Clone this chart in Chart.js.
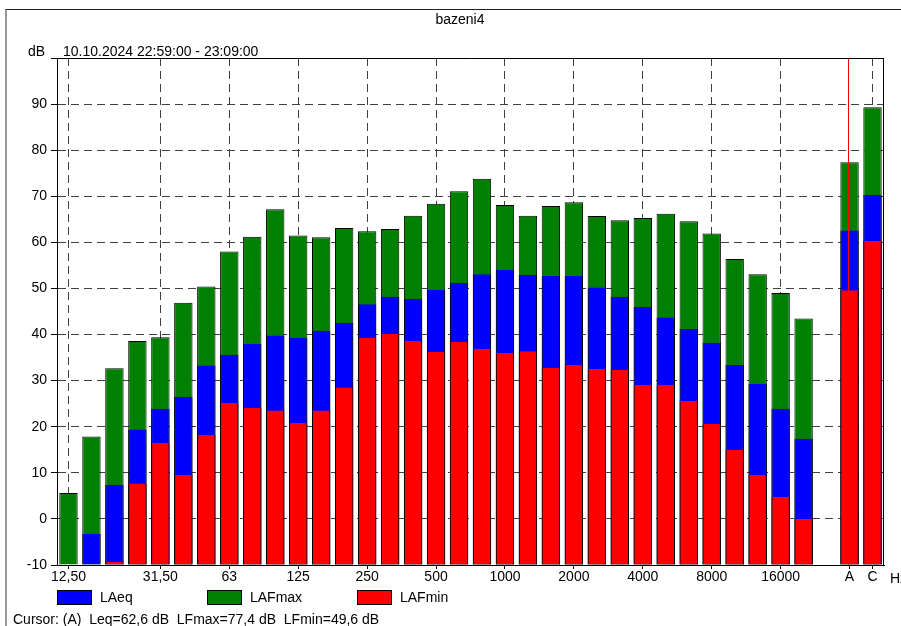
<!DOCTYPE html>
<html>
<head>
<meta charset="utf-8">
<title>bazeni4</title>
<script src="https://cdn.jsdelivr.net/npm/chart.js@4.4.1/dist/chart.umd.min.js"></script>
<style>
    html, body { margin: 0; padding: 0; background: #fff; }
    body { width: 901px; height: 626px; position: relative; overflow: hidden;
           font-family: 'Liberation Sans', Arial, sans-serif; font-size: 14px; color: #000; }
    #frame { position: absolute; left: 5px; top: 9px; width: 920px; height: 640px;
             border-top: 1px solid #222; border-left: 2px solid #999; }
    canvas { position: absolute; left: 0; top: 0; }
    .txt { position: absolute; line-height: 16px; white-space: nowrap; }
    .box { position: absolute; width: 35px; height: 15px; box-sizing: border-box; border: 1px solid #000; }
</style>
</head>
<body>
<div id="frame"></div>
<canvas id="spectrum-chart" width="901" height="626"></canvas>

<div class="txt" style="left:0; width:920px; text-align:center; top:11px;">bazeni4</div>
<div class="txt" style="left:28px; top:43px;">dB</div>
<div class="txt" style="left:63px; top:43px;">10.10.2024 22:59:00 - 23:09:00</div>
<div class="txt" style="left:890px; top:570px;">Hz</div>

<div class="box" style="left:57px; top:590px; background:#0000ff;"></div>
<div class="txt" style="left:100px; top:589px;">LAeq</div>
<div class="box" style="left:207px; top:590px; background:#008000;"></div>
<div class="txt" style="left:250px; top:589px;">LAFmax</div>
<div class="box" style="left:357px; top:590px; background:#ff0000;"></div>
<div class="txt" style="left:400px; top:589px;">LAFmin</div>

<div class="txt" style="left:13px; top:611px;">Cursor: (A)&nbsp; Leq=62,6 dB&nbsp; LFmax=77,4 dB&nbsp; LFmin=49,6 dB</div>

<script>
// Third-octave bands, then an empty slot, then the A and C totals
const bands = ['12,50', '16', '20', '25', '31,50', '40', '50', '63', '80', '100', '125', '160',
    '200', '250', '315', '400', '500', '630', '800', '1000', '1250', '1600', '2000', '2500',
    '3150', '4000', '5000', '6300', '8000', '10000', '12500', '16000', '20000', '', 'A', 'C'];

// Only these band labels get a tick label and a vertical grid line
const shownLabels = ['12,50', '31,50', '63', '125', '250', '500', '1000', '2000', '4000',
    '8000', '16000', 'A', 'C'];

const lafmax = [5.6, 17.9, 32.7, 38.6, 39.4, 46.9, 50.4, 58.0, 61.2, 67.2, 61.5, 61.1,
    63.1, 62.4, 62.9, 65.8, 68.4, 71.1, 73.8, 68.1, 65.8, 67.9, 68.7, 65.7,
    64.8, 65.3, 66.2, 64.6, 61.9, 56.4, 53.1, 49.0, 43.5, null, 77.4, 89.3];

const laeq = [null, -3.2, 7.4, 19.4, 23.9, 26.5, 33.3, 35.6, 38.0, 39.8, 39.3, 40.8,
    42.5, 46.6, 48.2, 47.7, 49.7, 51.2, 53.1, 54.0, 52.9, 52.7, 52.7, 50.2,
    48.2, 46.0, 43.7, 41.2, 38.2, 33.4, 29.3, 23.9, 17.4, null, 62.6, 70.3];

const lafmin = [null, null, -9.3, 7.7, 16.5, 9.5, 18.2, 25.2, 24.1, 23.5, 20.8, 23.5,
    28.5, 39.3, 40.1, 38.6, 36.2, 38.4, 36.9, 36.0, 36.4, 32.8, 33.4, 32.5,
    32.3, 29.1, 29.1, 25.6, 20.6, 15.0, 9.5, 4.8, 0.0, null, 49.6, 60.3];

const yTicks = [-10, 0, 10, 20, 30, 40, 50, 60, 70, 80, 90];
const cursorIndex = 34; // cursor sits on the A total

document.addEventListener('DOMContentLoaded', () => {
    const ctx = document.getElementById('spectrum-chart');
    if (!ctx || !window.Chart) return;

    Chart.defaults.color = '#000';
    Chart.defaults.font.family = "'Liberation Sans', Arial, sans-serif";
    Chart.defaults.font.size = 14;

    const isShown = (i) => shownLabels.indexOf(bands[i]) !== -1;
    const sideBorder = { left: 1, right: 1, top: 0, bottom: 0 };

    // frame on top/right of the plot plus the red cursor line
    const plotFrame = {
        id: 'plotFrame',
        afterDraw(chart) {
            const c2d = chart.ctx;
            const a = chart.chartArea;
            c2d.save();
            c2d.setLineDash([]);
            c2d.strokeStyle = '#000000';
            c2d.lineWidth = 1;
            c2d.beginPath();
            c2d.moveTo(a.left, a.top + 0.5);
            c2d.lineTo(Math.round(a.right) - 0.5, a.top + 0.5);
            c2d.lineTo(Math.round(a.right) - 0.5, a.bottom);
            c2d.stroke();

            const cx = Math.round(chart.scales.x.getPixelForValue(cursorIndex)) - 1.5;
            c2d.strokeStyle = 'rgb(255, 0, 0)';
            c2d.lineWidth = 1;
            c2d.beginPath();
            c2d.moveTo(cx, a.top + 1);
            c2d.lineTo(cx, a.bottom);
            c2d.stroke();
            c2d.restore();
        }
    };

    new Chart(ctx, {
        type: 'bar',
        data: {
            labels: bands,
            datasets: [
                {
                    label: 'LAFmin',
                    data: lafmin,
                    backgroundColor: '#ff0000',
                    borderColor: '#000',
                    borderWidth: sideBorder,
                    order: 0
                },
                {
                    label: 'LAeq',
                    data: laeq,
                    backgroundColor: '#0000ff',
                    borderColor: '#000',
                    borderWidth: sideBorder,
                    order: 1
                },
                {
                    label: 'LAFmax',
                    data: lafmax,
                    backgroundColor: '#008000',
                    borderColor: '#000',
                    borderWidth: 1,
                    order: 2
                }
            ]
        },
        options: {
            responsive: false,
            animation: false,
            devicePixelRatio: 1,
            layout: {
                autoPadding: false,
                padding: { left: 0, top: 58, right: 17, bottom: 41 }
            },
            datasets: {
                bar: {
                    grouped: false,
                    base: -10,
                    barPercentage: 0.8,
                    categoryPercentage: 1.0,
                    borderSkipped: 'start'
                }
            },
            plugins: {
                legend: { display: false },
                tooltip: { enabled: false }
            },
            scales: {
                x: {
                    offset: true,
                    afterFit: (s) => { s.height = 20; },
                    grid: {
                        offset: false,
                        // no dashed line under the cursor at A
                        color: (c) => (isShown(c.index) && c.index !== cursorIndex) ? '#404040' : 'rgba(0,0,0,0)',
                        tickColor: (c) => isShown(c.index) ? '#000' : 'rgba(0,0,0,0)',
                        tickLength: 4,
                        tickBorderDash: []
                    },
                    border: { color: '#000', width: 1, dash: [8, 5] },
                    ticks: {
                        autoSkip: false,
                        maxRotation: 0,
                        padding: 0,
                        callback: function(value, index) {
                            return isShown(index) ? bands[index] : '';
                        }
                    }
                },
                y: {
                    min: -10,
                    max: 100,
                    afterFit: (s) => { s.width = 57; },
                    afterBuildTicks: (s) => {
                        s.ticks = yTicks.concat([100]).map(v => ({ value: v }));
                    },
                    grid: {
                        color: '#404040',
                        tickColor: '#000',
                        tickLength: 6,
                        tickBorderDash: []
                    },
                    border: { color: '#000', width: 1, dash: [8, 5] },
                    ticks: {
                        padding: 4,
                        callback: function(value) {
                            return yTicks.indexOf(value) !== -1 ? String(value) : '';
                        }
                    }
                }
            }
        },
        plugins: [plotFrame]
    });
});
</script>
</body>
</html>
